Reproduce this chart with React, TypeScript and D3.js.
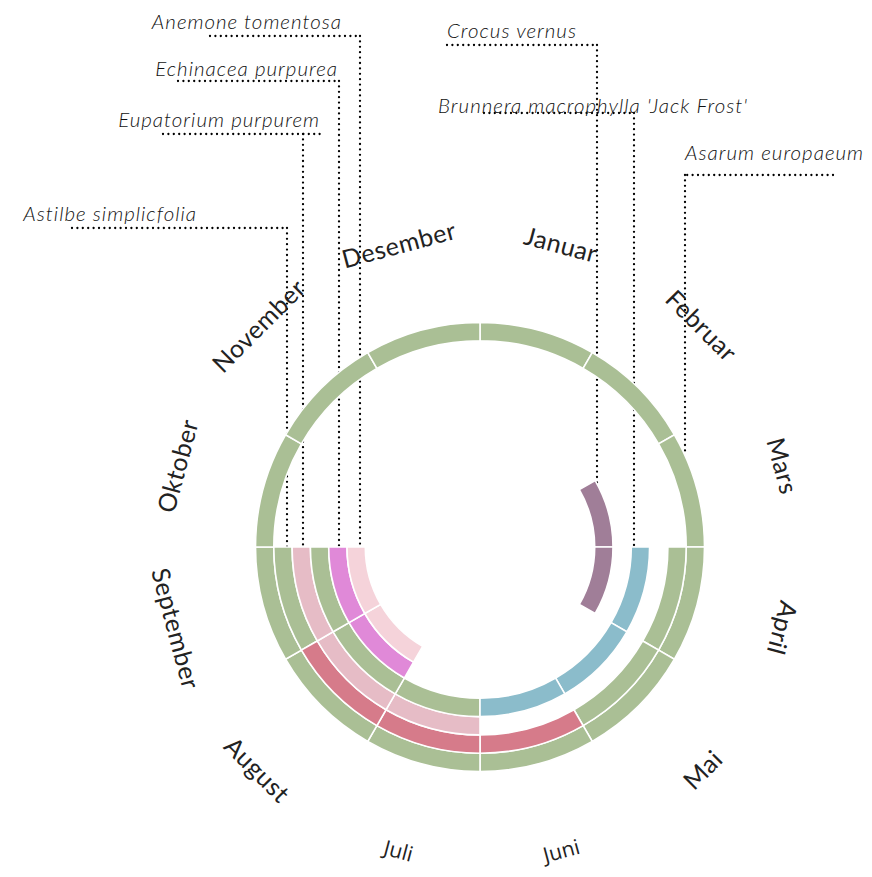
import React from 'react';
import * as d3 from 'd3';

// ---------- data ----------
const months = ['Januar', 'Februar', 'Mars', 'April', 'Mai', 'Juni', 'Juli', 'August', 'September', 'Oktober', 'November', 'Desember'];

const plantNames = [
  'Asarum europaeum',
  'Astilbe simplicfolia',
  'Eupatorium purpurem',
  "Brunnera macrophylla 'Jack Frost'",
  'Echinacea purpurea',
  'Anemone tomentosa',
  'Crocus vernus',
];
// ring (0 = outermost) each plant is drawn on
const plantRing = [0, 1, 2, 3, 4, 5, 5];
// months (1-12) with foliage
const leafMonths = [
  [1, 2, 3, 4, 5, 6, 7, 8, 9, 10, 11, 12],
  [4, 5, 9],
  [],
  [7, 8, 9],
  [],
  [],
  [],
];
// months (1-12) in flower
const flowerMonths = [
  [],
  [6, 7, 8],
  [7, 8, 9],
  [4, 5, 6],
  [8, 9],
  [8, 9],
  [3, 4],
];

// ---------- styles ----------
const leafColor = '#aabf95';
const flowerColors = ['#aabf95', '#d67b8a', '#e6bcc6', '#8bbccb', '#e089d8', '#f5d3da', '#a07e98'];

// leader-line layout for each plant label (page coordinates)
const labelSide = ['right', 'left', 'left', 'right', 'left', 'left', 'right'];
const labelX = [685, 197, 320, 438, 338, 342, 447];
const labelY = [160, 221, 127, 113, 76, 29, 38];
const lineY = [175, 228, 134, 113, 81, 36, 45];
const lineFar = [833, 72, 163, 484, 178, 210, 447];
const lineNear = [685, 287, 322, 634, 339, 360, 597];
const leaderDist = [205, 193, 177, 154, 141, 120, 117];

const W = 872;
const H = 877;
const cx = 480;
const cy = 547;
const outerR = 224.5;
const bandW = 18.3;
const monthLabelR = 314;
const altFontMonths = ['Juni', 'Juli'];

export default function App() {
  const angle = d3.scaleLinear().domain([0, 12]).range([0, 2 * Math.PI]);
  const ringOuter = d3.scaleLinear().domain([0, 6]).range([outerR, outerR - 6 * bandW]);
  const arcGen = d3.arc<any>();

  type Cell = { key: string; d: string; fill: string };
  const cells: Cell[] = [];
  plantNames.forEach((name, pi) => {
    const ring = plantRing[pi];
    const add = (m: number, fill: string, kind: string) => {
      const d = arcGen({
        innerRadius: ringOuter(ring + 1),
        outerRadius: ringOuter(ring),
        startAngle: angle(m - 1),
        endAngle: angle(m),
      }) as string;
      cells.push({ key: `${pi}-${kind}-${m}`, d, fill });
    };
    leafMonths[pi].forEach((m) => add(m, leafColor, 'l'));
    flowerMonths[pi].forEach((m) => add(m, flowerColors[pi], 'f'));
  });

  const dotStyle = {
    fill: 'none',
    stroke: '#000',
    strokeWidth: 2.3,
    strokeDasharray: '0 5.4',
    strokeLinecap: 'round' as const,
  };

  return (
    <svg
      width={W}
      height={H}
      viewBox={`0 0 ${W} ${H}`}
      style={{ position: 'absolute', left: 0, top: 0, background: '#fff' }}
    >
      {/* leader lines */}
      <g>
        {plantNames.map((name, i) => {
          const vx = labelSide[i] === 'left' ? cx - leaderDist[i] : cx + leaderDist[i];
          const dx = leaderDist[i];
          const endY = i === 0 ? cy - Math.sqrt(outerR * outerR - dx * dx) : cy;
          return (
            <g key={name}>
              <line x1={lineFar[i]} y1={lineY[i]} x2={lineNear[i]} y2={lineY[i]} style={dotStyle} />
              <line x1={vx} y1={lineY[i]} x2={vx} y2={endY} style={dotStyle} />
            </g>
          );
        })}
      </g>
      {/* ring cells */}
      <g transform={`translate(${cx},${cy})`}>
        {cells.map((c) => (
          <path key={c.key} d={c.d} fill={c.fill} stroke="#fff" strokeWidth={1.6} />
        ))}
      </g>
      {/* month labels */}
      <g>
        {months.map((m, i) => {
          const a = angle(i + 0.5);
          const deg = (a * 180) / Math.PI;
          const flip = deg > 120 && deg < 270;
          const x = cx + monthLabelR * Math.sin(a);
          const y = cy - monthLabelR * Math.cos(a);
          const alt = altFontMonths.includes(m);
          return (
            <text
              key={m}
              transform={`translate(${x},${y}) rotate(${flip ? deg - 180 : deg})`}
              textAnchor="middle"
              dominantBaseline="central"
              style={{
                fontFamily: alt ? "'Open Sans', sans-serif" : 'Lato, sans-serif',
                fontSize: alt ? 21 : 25,
                fontWeight: 400,
                letterSpacing: alt ? 0 : 0.5,
                fill: '#222',
              }}
            >
              {m}
            </text>
          );
        })}
      </g>
      {/* plant labels */}
      <g>
        {plantNames.map((name, i) => (
          <text
            key={name}
            x={labelX[i]}
            y={labelY[i]}
            textAnchor={labelSide[i] === 'left' ? 'end' : 'start'}
            style={{
              fontFamily: 'Lato, sans-serif',
              fontStyle: 'italic',
              fontWeight: 300,
              fontSize: 20.5,
              letterSpacing: 1,
              fill: '#111',
            }}
          >
            {name}
          </text>
        ))}
      </g>
    </svg>
  );
}
